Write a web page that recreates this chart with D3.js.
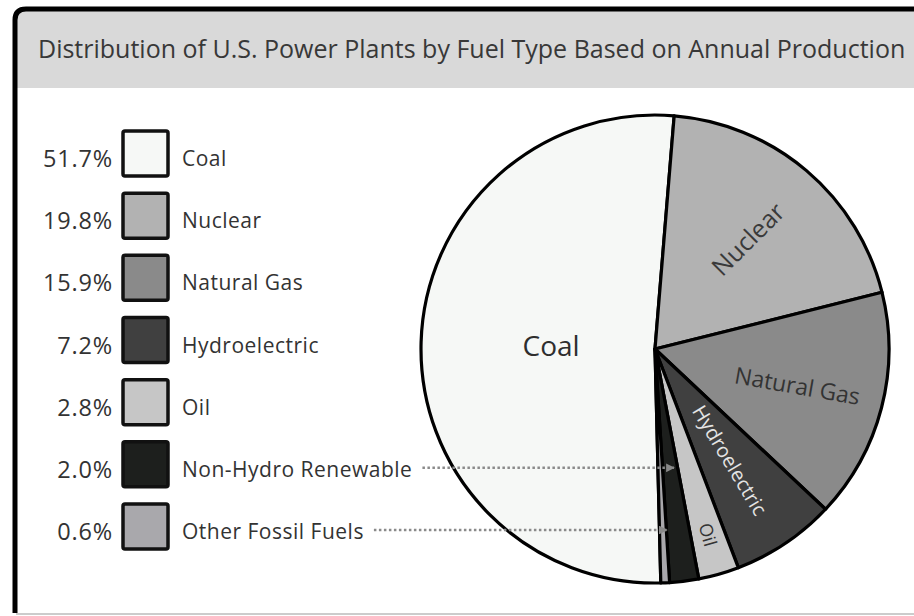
<!DOCTYPE html>
<html>
<head>
<meta charset="utf-8">
<script src="https://cdn.jsdelivr.net/npm/d3@7"></script>
<style>
  body { margin: 0; background: #fff; }
  svg { display: block; font-family: "Open Sans", "Noto Sans", sans-serif; }
</style>
</head>
<body>
<svg id="chart"></svg>
<script>
// data
const fuels = ['Coal', 'Nuclear', 'Natural Gas', 'Hydroelectric', 'Oil', 'Non-Hydro Renewable', 'Other Fossil Fuels'];
const shares = [51.7, 19.8, 15.9, 7.2, 2.8, 2.0, 0.6];
const fills = ['#f6f8f6', '#b2b2b2', '#8a8a8a', '#404040', '#c6c6c6', '#1d1f1d', '#a9a8ac'];
const titleText = 'Distribution of U.S. Power Plants by Fuel Type Based on Annual Production';

// how each slice label sits (radius, rotation, colour, size) - styling only
const sliceLabels = {
  'Coal':          { r: 104, rot: null, color: '#2e2e2e', size: 28 },
  'Nuclear':       { r: 144, rot: -45, color: '#3a3a3a', size: 25 },
  'Natural Gas':   { r: 147, rot: 10, color: '#333', size: 23 },
  'Hydroelectric': { r: 134, rot: 59, color: '#e4e4e4', size: 20 },
  'Oil':           { r: 193, rot: 'radial', color: '#333', size: 18 }
};
const pointed = ['Non-Hydro Renewable', 'Other Fossil Fuels'];

const W = 914, H = 616;
const svg = d3.select('#chart').attr('width', W).attr('height', H);

// panel
svg.append('rect').attr('x', 0).attr('y', 0).attr('width', W).attr('height', H).attr('fill', '#fff');
svg.append('rect')
  .attr('x', 16).attr('y', 11).attr('width', W).attr('height', 77)
  .attr('fill', '#d9d9d9');
svg.append('line')
  .attr('x1', 16).attr('x2', W).attr('y1', 614).attr('y2', 614)
  .attr('stroke', '#bbb').attr('stroke-width', 1.5);
svg.append('path')
  .attr('d', `M15,613 L15,20 Q15,9 26,9 L${W + 5},9`)
  .attr('fill', 'none').attr('stroke', '#000').attr('stroke-width', 5);

svg.append('text')
  .attr('x', 38).attr('y', 58)
  .attr('font-size', 25)
  .attr('fill', '#383838')
  .text(titleText);

// legend
const legendY = d3.scalePoint().domain(fuels).range([154, 527]);
const legend = svg.append('g').selectAll('g')
  .data(fuels)
  .join('g')
  .attr('transform', d => `translate(0, ${legendY(d)})`);

legend.append('rect')
  .attr('x', 123).attr('y', -23).attr('width', 45).attr('height', 45).attr('rx', 2)
  .attr('fill', (d, i) => fills[i])
  .attr('stroke', '#111').attr('stroke-width', 3.5);

legend.append('text')
  .attr('x', 113).attr('y', 13)
  .attr('text-anchor', 'end')
  .attr('font-size', 23.5)
  .attr('letter-spacing', 0.8)
  .attr('fill', '#333')
  .text((d, i) => shares[i].toFixed(1) + '%');

legend.append('text')
  .attr('class', 'lbl')
  .attr('x', 182).attr('y', 12)
  .attr('font-size', 21)
  .attr('letter-spacing', 0.5)
  .attr('fill', '#333')
  .text(d => d);

// pie
const cx = 655, cy = 349, R = 234;
const coalEnd = 4.7 * Math.PI / 180;
const pie = d3.pie().sort(null)
  .startAngle(coalEnd - 2 * Math.PI * shares[0] / 100)
  .endAngle(coalEnd - 2 * Math.PI * shares[0] / 100 + 2 * Math.PI);
const arcs = pie(shares).map((a, i) => Object.assign(a, { name: fuels[i] }));
const arc = d3.arc().innerRadius(0).outerRadius(R);

const g = svg.append('g').attr('transform', `translate(${cx},${cy})`);
g.selectAll('path')
  .data(arcs)
  .join('path')
  .attr('d', arc)
  .attr('fill', (d, i) => fills[i])
  .attr('stroke', '#000')
  .attr('stroke-width', 3.2)
  .attr('stroke-linejoin', 'round');

// slice labels
arcs.forEach(a => {
  const s = sliceLabels[a.name];
  if (!s) return;
  const mid = (a.startAngle + a.endAngle) / 2;
  const x = Math.sin(mid) * s.r, y = -Math.cos(mid) * s.r;
  let rot = 0;
  if (s.rot === 'radial') rot = mid * 180 / Math.PI - 90;
  else if (s.rot !== null) rot = s.rot;
  g.append('text')
    .attr('transform', `translate(${x},${y}) rotate(${rot})`)
    .attr('text-anchor', 'middle')
    .attr('dy', '0.35em')
    .attr('font-size', s.size)
    .attr('fill', s.color)
    .text(a.name);
});

// dotted pointers for the thin slices
const defs = svg.append('defs');
defs.append('marker')
  .attr('id', 'tip').attr('viewBox', '0 0 10 10')
  .attr('refX', 9).attr('refY', 5)
  .attr('markerWidth', 4.5).attr('markerHeight', 3.5)
  .attr('orient', 'auto')
  .append('path').attr('d', 'M0,0 L10,5 L0,10 Z').attr('fill', '#8a8a8a');

pointed.forEach(name => {
  const a = arcs.find(d => d.name === name);
  const mid = (a.startAngle + a.endAngle) / 2;
  const y = legendY(name) + 3;
  const dy = y - cy;
  const xTip = cx + dy * Math.tan(Math.PI - mid) + 4;
  const lbl = legend.filter(d => d === name).select('.lbl').node();
  const x0 = 182 + lbl.getComputedTextLength() + 10;
  svg.append('line')
    .attr('x1', x0).attr('x2', xTip).attr('y1', y).attr('y2', y)
    .attr('stroke', '#8a8a8a').attr('stroke-width', 2.5)
    .attr('stroke-dasharray', '2.5,2.5')
    .attr('marker-end', 'url(#tip)');
});
</script>
</body>
</html>
